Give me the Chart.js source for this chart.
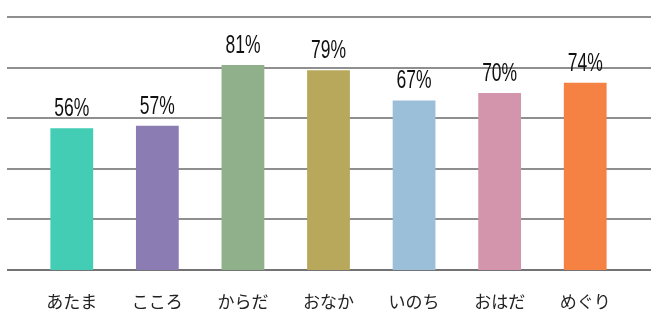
<!DOCTYPE html>
<html>
<head>
<meta charset="utf-8">
<script src="https://cdn.jsdelivr.net/npm/chart.js@4/dist/chart.umd.min.js"></script>
<style>
  html, body { margin: 0; padding: 0; background: #fff; }
  #wrap { width: 658px; height: 325px; }
</style>
</head>
<body>
<div id="wrap"><canvas id="scoreChart"></canvas></div>
<script>
const labels = ["あたま", "こころ", "からだ", "おなか", "いのち", "おはだ", "めぐり"];
const scores = [56, 57, 81, 79, 67, 70, 74];
const barColors = ["#43cdb4", "#8b7db3", "#8fb08a", "#b8a85c", "#9bbfd9", "#d295ac", "#f58143"];

// horizontal rules run wider than the bar area, so they are drawn by hand
const wideGrid = {
  id: "wideGrid",
  beforeDatasetsDraw(chart) {
    const { ctx, scales: { y } } = chart;
    ctx.save();
    y.ticks.forEach((t, i) => {
      const py = Math.round(y.getPixelForValue(t.value));
      ctx.strokeStyle = i === 0 ? "#444" : "#6a6a6a";
      ctx.lineWidth = 1.6;
      ctx.beginPath();
      ctx.moveTo(7, py);
      ctx.lineTo(651, py);
      ctx.stroke();
    });
    ctx.restore();
  }
};

// narrow percent labels above each bar
const valueLabels = {
  id: "valueLabels",
  afterDatasetsDraw(chart) {
    const { ctx } = chart;
    const sx = 0.7;
    ctx.save();
    ctx.font = '25px "Liberation Sans", Arial, sans-serif';
    ctx.fillStyle = "#111";
    ctx.textAlign = "center";
    ctx.textBaseline = "alphabetic";
    ctx.scale(sx, 1);
    chart.getDatasetMeta(0).data.forEach((bar, i) => {
      ctx.fillText(scores[i] + "%", bar.x / sx, bar.y - 12);
    });
    ctx.restore();
  }
};

new Chart(document.getElementById("scoreChart").getContext("2d"), {
  type: "bar",
  data: {
    labels: labels,
    datasets: [{
      data: scores,
      backgroundColor: barColors,
      borderWidth: 0,
      barPercentage: 0.5,
      categoryPercentage: 1.0
    }]
  },
  options: {
    responsive: true,
    maintainAspectRatio: false,
    animation: false,
    layout: { padding: { top: 17, left: 29, right: 30, bottom: 15 } },
    plugins: {
      legend: { display: false },
      tooltip: { enabled: false }
    },
    scales: {
      x: {
        grid: { display: false },
        border: { display: false },
        ticks: {
          color: "#222",
          padding: 13,
          maxRotation: 0,
          font: { family: '"Noto Sans CJK JP", sans-serif', size: 17 }
        },
        afterFit(scale) { scale.height = 40; }
      },
      y: {
        min: 0,
        max: 100,
        display: false,
        ticks: { stepSize: 20 }
      }
    }
  },
  plugins: [wideGrid, valueLabels]
});
</script>
</body>
</html>
